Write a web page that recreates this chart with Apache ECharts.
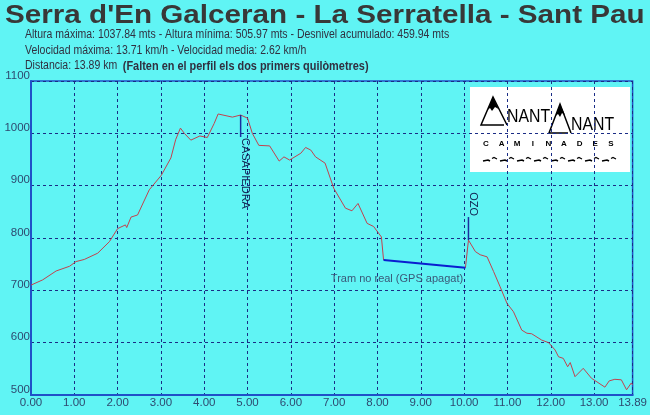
<!DOCTYPE html>
<html>
<head>
<meta charset="utf-8">
<script src="https://cdn.jsdelivr.net/npm/echarts@6/dist/echarts.min.js"></script>
<style>
  html, body { margin: 0; padding: 0; background: #60f4f4; }
  #chart { width: 650px; height: 415px; }
</style>
</head>
<body>
<div id="chart"></div>
<script>
// profile before the GPS gap
const profileKmA = [0.00, 0.27, 0.58, 0.89, 1.04, 1.23, 1.54, 1.81, 2.00, 2.18, 2.21, 2.31, 2.46, 2.73, 3.01,
  3.23, 3.34, 3.45, 3.54, 3.69, 3.90, 4.07, 4.23, 4.32, 4.65, 4.84, 5.00, 5.11, 5.26, 5.51, 5.73, 5.84, 5.97,
  6.23, 6.34, 6.46, 6.57, 6.79, 6.99, 7.26, 7.41, 7.55, 7.76, 7.91, 8.09, 8.14];
const profileElevA = [710, 720, 737, 746, 755, 759, 771, 793, 818, 825, 820, 840, 844, 892, 920,
  953, 988, 1010, 1000, 987, 995, 992, 1019, 1037, 1031, 1035, 1029, 1000, 977, 976, 947, 955, 949,
  962, 973, 968, 955, 943, 895, 857, 852, 866, 828, 822, 802, 758];
// profile after the gap
const profileKmB = [10.03, 10.10, 10.26, 10.37, 10.53, 10.68, 10.83, 10.99, 11.14, 11.33, 11.45, 11.56, 11.79,
  11.95, 12.10, 12.18, 12.29, 12.39, 12.45, 12.56, 12.75, 12.94, 13.25, 13.35, 13.48, 13.63, 13.75, 13.86, 13.89];
const profileElevB = [743, 796, 774, 768, 764, 736, 707, 675, 659, 624, 618, 617, 605,
  600, 586, 573, 570, 554, 562, 535, 551, 532, 515, 527, 530, 529, 510, 523, 519];
// GPS switched off
const gapKm = [8.14, 10.03];
const gapElev = [758, 743];

const markerNames = ['CASAPIEDRA', 'OZO'];
const markerKm = [4.84, 10.10];
const markerFrom = [1035, 796];
const markerTo = [993, 840];

const gapNote = 'Tram no real (GPS apagat)';
const gapNoteKm = 8.45;
const gapNoteElev = 722;

const titleText = "Serra d'En Galceran - La Serratella - Sant Pau";
const infoLines = [
  'Altura máxima: 1037.84 mts - Altura mínima: 505.97 mts - Desnivel acumulado: 459.94 mts',
  'Velocidad máxima: 13.71 km/h - Velocidad media: 2.62 km/h',
  'Distancia: 13.89 km'
];
const infoNote = '(Falten en el perfil els dos primers quilòmetres)';

const xMin = 0, xMax = 13.89, xStep = 1;
const yMin = 500, yMax = 1100, yStep = 100;

const axisBlue = '#2050c8';
const gridNavy = '#1a2c86';
const lineRed = '#c2424e';
const textDark = '#303040';
const sans = '"Liberation Sans", Arial, sans-serif';

const chart = echarts.init(document.getElementById('chart'));

// logo letters spaced out
const logoLetters = 'CAMINADES'.split('').map((ch, i) => ({
  type: 'text', x: 16 + i * 15.6, y: 57,
  style: { text: ch, font: 'bold 8px ' + sans, fill: '#000', align: 'center', verticalAlign: 'middle' }
}));
const logoWaves = [];
for (let i = 0; i < 8; i++) {
  const x0 = 13 + i * 17;
  logoWaves.push({
    type: 'polyline', shape: { points: [[x0, 74], [x0 + 5, 73], [x0 + 7, 74]] },
    style: { stroke: '#000', lineWidth: 1.6, fill: null }
  });
  logoWaves.push({
    type: 'polyline', shape: { points: [[x0 + 9, 71.5], [x0 + 11, 70.5], [x0 + 14, 72]] },
    style: { stroke: '#000', lineWidth: 1.3, fill: null }
  });
}

// header texts, placed in pixels
const headerTexts = [
  { type: 'text', x: 5, y: 16, scaleX: 1.14, style: { text: titleText, font: 'bold 26px ' + sans, fill: '#383838', verticalAlign: 'middle' } },
  { type: 'text', x: 25, y: 34.5, scaleX: 0.84, style: { text: infoLines[0], font: '12.5px ' + sans, fill: textDark, verticalAlign: 'middle' } },
  { type: 'text', x: 25, y: 51, scaleX: 0.84, style: { text: infoLines[1], font: '12.5px ' + sans, fill: textDark, verticalAlign: 'middle' } },
  {
    type: 'text', x: 25, y: 66, scaleX: 0.84,
    style: {
      text: '{a|' + infoLines[2] + '}  {b|' + infoNote + '}', verticalAlign: 'middle',
      rich: {
        a: { fontFamily: sans, fontSize: 12.5, fontWeight: 'normal', fill: textDark },
        b: { fontFamily: sans, fontSize: 13, fontWeight: 'bold', fill: textDark }
      }
    }
  }
];

const option = {
  backgroundColor: '#60f4f4',
  animation: false,
  grid: {
    left: 31, right: 16, top: 81, bottom: 20,
    show: true, borderColor: axisBlue, borderWidth: 1.5, backgroundColor: 'transparent'
  },
  xAxis: {
    type: 'value', min: xMin, max: xMax, interval: xStep,
    axisLine: { show: true, onZero: false, lineStyle: { color: axisBlue, width: 2 } },
    axisTick: { show: false },
    axisLabel: {
      margin: 2, fontFamily: sans, fontSize: 11.5, color: '#2e4a70',
      showMaxLabel: true, formatter: v => v.toFixed(2)
    },
    splitLine: { show: true, lineStyle: { color: gridNavy, type: [3, 3], width: 1 } }
  },
  yAxis: {
    type: 'value', min: yMin, max: yMax, interval: yStep,
    axisLine: { show: true, lineStyle: { color: axisBlue, width: 2 } },
    axisTick: { show: false },
    axisLabel: {
      margin: 1, fontFamily: sans, fontSize: 11.5, color: '#2e4a70',
      verticalAlign: 'bottom', lineHeight: 11, formatter: v => String(v)
    },
    splitLine: { show: true, lineStyle: { color: gridNavy, type: [3, 3], width: 1 } }
  },
  graphic: [
    { type: 'group', x: 0, y: 0, children: headerTexts },
    {
      type: 'group', x: 470, y: 87, z: -10,
      children: [
        { type: 'rect', shape: { x: 0, y: 0, width: 160, height: 85 }, style: { fill: '#ffffff' } },
        // first mountain "A"
        { type: 'polyline', shape: { points: [[34, 38], [11, 38], [23, 10], [37, 38]] }, style: { stroke: '#000', lineWidth: 1.5, fill: null } },
        { type: 'polygon', shape: { points: [[23, 10], [17.5, 23], [20, 21], [22, 24], [25, 20], [28.5, 22]] }, style: { fill: '#000' } },
        { type: 'text', x: 37, y: 39, scaleX: 0.88, style: { text: 'NANT', font: '18px ' + sans, fill: '#000', verticalAlign: 'bottom' } },
        // second mountain "A"
        { type: 'polyline', shape: { points: [[98, 46], [79, 46], [90, 17], [101, 46]] }, style: { stroke: '#000', lineWidth: 1.5, fill: null } },
        { type: 'polygon', shape: { points: [[90, 17], [85.5, 29], [88, 27], [90, 30], [92, 26], [95, 28]] }, style: { fill: '#000' } },
        { type: 'text', x: 101, y: 47, scaleX: 0.88, style: { text: 'NANT', font: '18px ' + sans, fill: '#000', verticalAlign: 'bottom' } }
      ].concat(logoLetters, logoWaves)
    }
  ],
  series: [
    {
      type: 'line', data: profileKmA.map((k, i) => [k, profileElevA[i]]),
      symbol: 'none', lineStyle: { color: lineRed, width: 1 }, z: 3
    },
    {
      type: 'line', data: profileKmB.map((k, i) => [k, profileElevB[i]]),
      symbol: 'none', lineStyle: { color: lineRed, width: 1 }, z: 3
    },
    {
      type: 'line', data: gapKm.map((k, i) => [k, gapElev[i]]),
      symbol: 'none', lineStyle: { color: '#0a1ed0', width: 2 }, z: 4
    },
    {
      type: 'custom', z: 5,
      data: markerKm.map((k, i) => [k, markerFrom[i], markerTo[i]]),
      encode: { x: 0, y: [1, 2] },
      renderItem: (params, api) => {
        const k = api.value(0);
        const p1 = api.coord([k, api.value(1)]);
        const p2 = api.coord([k, api.value(2)]);
        const down = api.value(2) < api.value(1);
        return {
          type: 'group',
          children: [
            { type: 'line', shape: { x1: p1[0], y1: p1[1], x2: p2[0], y2: p2[1] }, style: { stroke: '#1830a0', lineWidth: 1.5 } },
            {
              type: 'text', x: p2[0] - 1, y: p2[1] + (down ? 1 : -1), rotation: -Math.PI / 2,
              style: {
                text: markerNames[params.dataIndex], align: down ? 'left' : 'right', verticalAlign: 'bottom',
                font: '11px ' + sans, fill: '#102050'
              }
            }
          ]
        };
      }
    },
    {
      type: 'custom', z: 5,
      data: [[gapNoteKm, gapNoteElev]],
      renderItem: (params, api) => {
        const p = api.coord([api.value(0), api.value(1)]);
        return {
          type: 'text', x: p[0], y: p[1],
          style: { text: gapNote, align: 'center', verticalAlign: 'middle', font: '11px ' + sans, fill: '#3a5878' }
        };
      }
    }
  ]
};

chart.setOption(option);
</script>
</body>
</html>
